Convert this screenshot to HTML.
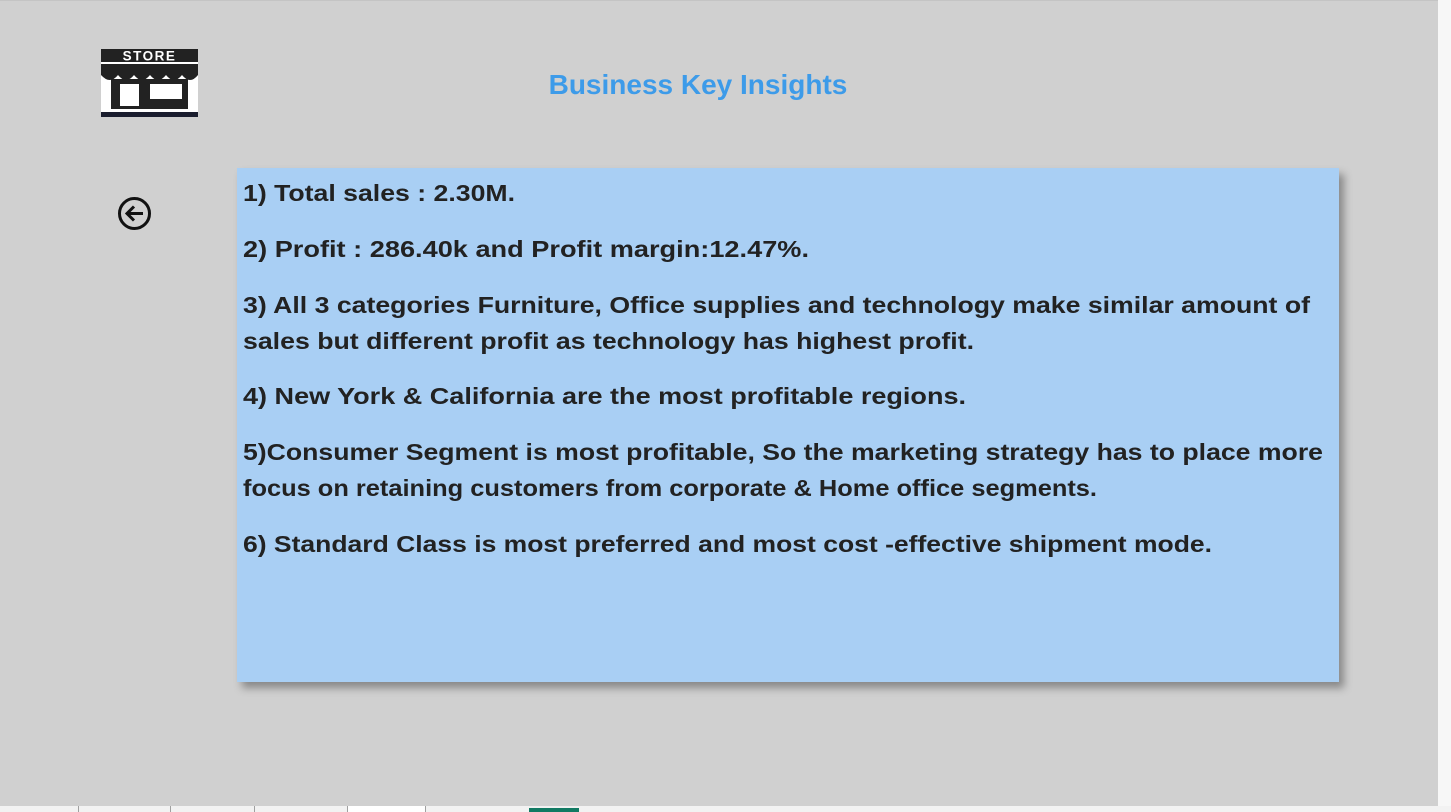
<!DOCTYPE html>
<html><head><meta charset="utf-8"><style>
body{margin:0;width:1451px;height:812px;overflow:hidden;background:#f7f7f7;font-family:"Liberation Sans",sans-serif;position:relative}
#bg{position:absolute;left:0;top:0;width:1438px;height:806px;background:#d0d0d0;border-top:1px solid #c4c4c4}
#tabs{position:absolute;left:0;top:806px;width:1451px;height:6px;background:#f2f2f2}
.div{position:absolute;top:806px;width:1px;height:6px;background:#a0a0a0}
.title{position:absolute;left:498px;top:69px;width:400px;text-align:center;color:#3d9be9;font-weight:bold;font-size:28px}
.panel{position:absolute;left:237px;top:168px;width:1102px;height:514px;background:#a9cff4;box-shadow:5px 6px 8px rgba(0,0,0,0.35)}
.ln{position:absolute;left:6px;font-weight:bold;font-size:23px;color:#222;white-space:nowrap;transform-origin:0 50%}
</style></head><body>
<div id="bg"></div>
<div id="tabs"></div>
<div class="div" style="left:78px"></div><div class="div" style="left:170px"></div><div class="div" style="left:254px"></div><div class="div" style="left:347px"></div><div class="div" style="left:425px"></div>
<div style="position:absolute;left:348px;top:806px;width:77px;height:6px;background:#fff"></div>
<div style="position:absolute;left:529px;top:808px;width:50px;height:4px;background:#127a63"></div>
<svg style="position:absolute;left:101px;top:49px" width="97" height="68" viewBox="0 0 97 68">
<rect x="0" y="0" width="97" height="68" fill="#fff"/>
<rect x="0" y="0" width="97" height="13" fill="#222"/>
<text x="48.5" y="11.5" text-anchor="middle" fill="#fff" font-family="Liberation Sans" font-weight="bold" font-size="13.5" letter-spacing="1.5">STORE</text>
<path d="M0 15 H97 V26 Q89 36 81 26 Q73 36 65 26 Q57 36 49 26 Q41 36 33 26 Q25 36 17 26 Q9 36 0 26Z" fill="#222"/>
<rect x="10" y="30" width="77" height="30" fill="#222"/>
<rect x="19" y="35" width="19" height="22" fill="#fff"/>
<rect x="49" y="35" width="32" height="15" fill="#fff"/>
<rect x="0" y="63" width="97" height="5" fill="#1a1d2e"/>
</svg>
<svg style="position:absolute;left:117px;top:196px" width="35" height="35" viewBox="0 0 35 35">
<circle cx="17.5" cy="17.5" r="15" fill="none" stroke="#111" stroke-width="3"/>
<path d="M26 17.5H10M17 10.5L10 17.5L17 24.5" fill="none" stroke="#111" stroke-width="3"/>
</svg>
<div class="title">Business Key Insights</div>
<div class="panel">
<div class="ln" style="top:12px">1) Total sales : 2.30M.</div>
<div class="ln" style="top:68px">2) Profit : 286.40k and Profit margin:12.47%.</div>
<div class="ln" style="top:124px">3) All 3 categories Furniture, Office supplies and technology make similar amount of</div>
<div class="ln" style="top:160px">sales but different profit as technology has highest profit.</div>
<div class="ln" style="top:215px">4) New York &amp; California are the most profitable regions.</div>
<div class="ln" style="top:271px">5)Consumer Segment is most profitable, So the marketing strategy has to place more</div>
<div class="ln" style="top:307px">focus on retaining customers from corporate &amp; Home office segments.</div>
<div class="ln" style="top:363px">6) Standard Class is most preferred and most cost -effective shipment mode.</div>
</div>
<script>
var targets=[272,566,1067,731,723,1080,854,969];
document.querySelectorAll('.ln').forEach(function(el,i){var w=el.getBoundingClientRect().width;if(w>0)el.style.transform='scaleX('+(targets[i]/w)+')';});
</script>
</body></html>
